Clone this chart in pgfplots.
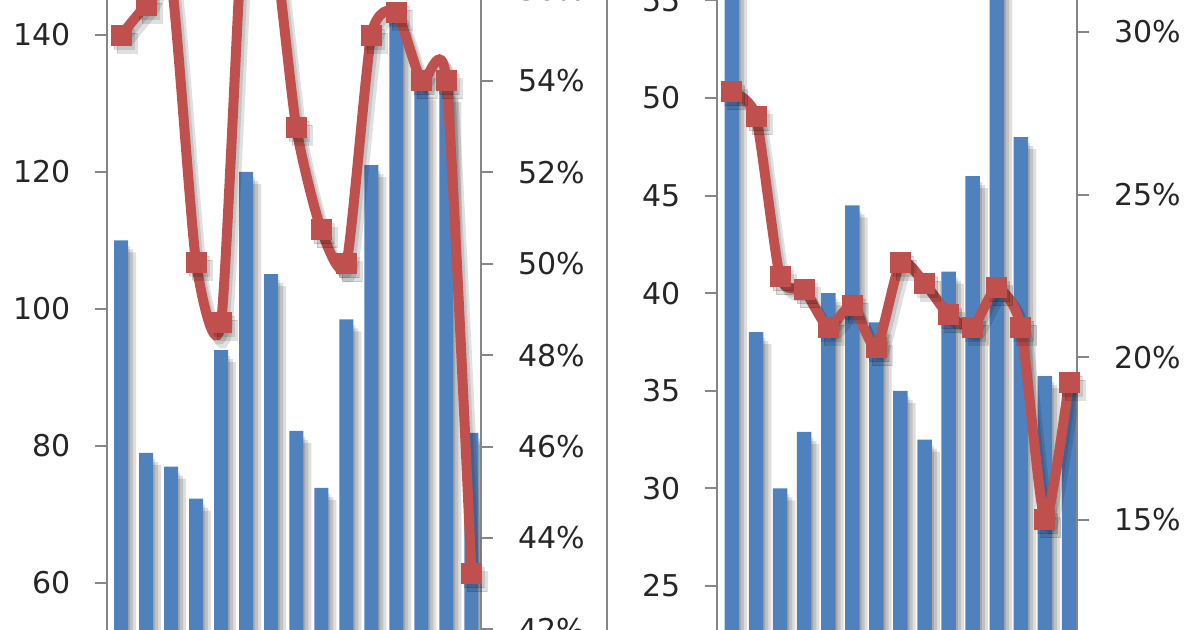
\documentclass[border=0pt]{standalone}
\usepackage{fontspec}
\setmainfont{DejaVu Sans}
\usepackage{pgfplots}
\usepackage{pgfplotstable}
\pgfplotsset{compat=1.18}
\definecolor{barblue}{HTML}{4F81BD}
\definecolor{linered}{HTML}{C0504D}
\definecolor{axgray}{HTML}{868686}

\pgfplotstableread{
x v
0 110
1 79
2 77
3 72.3
4 94
5 120
6 105.1
7 82.2
8 73.9
9 98.5
10 121
11 142.2
12 132.3
13 132
14 81.9
}\leftbars
\pgfplotstableread{
x v
0 55.0
1 55.66
2 56.2
3 50.03
4 48.72
5 58.5
6 57.5
7 52.99
8 50.74
9 50.0
10 55.0
11 55.5
12 54.0
13 54.0
14 43.22
}\leftline
\pgfplotstableread{
x v
0 57
1 38
2 30
3 32.9
4 40
5 44.5
6 38.5
7 35
8 32.5
9 41.1
10 46
11 58
12 48
13 35.75
14 35.5
}\rightbars
\pgfplotstableread{
x v
0 28.16
1 27.39
2 22.47
3 22.07
4 20.93
5 21.6
6 20.3
7 22.92
8 22.28
9 21.3
10 20.93
11 22.13
12 20.93
13 15.0
14 19.24
}\rightline

\pgfplotsset{
  base/.style={scale only axis, height=375pt, anchor=south west, clip=true,
    axis x line=none, xtick=\empty,
    tick align=outside, major tick length=6pt,
    every tick/.style={axgray, line width=1pt},
    axis line style={axgray, line width=1pt},
    ticklabel style={font=\fontsize{15}{18}\selectfont, text=black!85},
  },
  leftlab/.style={yticklabel style={xshift=-8.5pt}},
  rightlab/.style={yticklabel style={xshift=9pt}},
  shbar/.style={ybar, bar width=#1, bar shift=0pt, draw=none, fill=black, fill opacity=0.13},
  mainbar/.style={ybar, bar width=#1, bar shift=0pt, draw=none, fill=barblue},
  shline/.style={smooth, tension=0.38, black, opacity=0.12, line width=5pt,
    mark=square*, mark size=5pt, mark options={solid, line width=0.5pt}},
  mainline/.style={smooth, tension=0.38, linered, line width=5pt,
    mark=square*, mark size=5pt, mark options={solid, line width=0.5pt, fill=linered, draw=linered}},
}

\begin{document}
\begin{tikzpicture}
\path[use as bounding box] (0,0) rectangle (600pt,315pt);
\clip (0,0) rectangle (600pt,315pt);

% ---------- left panel, bars ----------
\begin{axis}[base, leftlab, at={(53.5pt,-30pt)}, width=187pt,
  xmin=-0.56, xmax=14.38, ymin=44.38, ymax=153.87,
  axis y line*=left,
  ytick={60,80,100,120,140}, yticklabels={60,80,100,120,140}]
\addplot[shbar=7pt, xshift=1pt, yshift=-3pt] table[x=x,y=v]{\leftbars};
\addplot[shbar=7pt, xshift=2.5pt, yshift=-4.5pt] table[x=x,y=v]{\leftbars};
\addplot[shbar=7pt, xshift=4pt, yshift=-6pt] table[x=x,y=v]{\leftbars};
\addplot[mainbar=7pt] table[x=x,y=v]{\leftbars};
\end{axis}
% ---------- left panel, line ----------
\begin{axis}[base, rightlab, at={(53.5pt,-30pt)}, width=187pt,
  xmin=-0.56, xmax=14.38, ymin=40.674, ymax=57.085,
  axis y line*=right,
  ytick={42,44,46,48,50,52,54,56},
  yticklabels={42\%,44\%,46\%,48\%,50\%,52\%,54\%,56\%}]
\addplot[shline, xshift=1.5pt, yshift=-2pt] table[x=x,y=v]{\leftline};
\addplot[shline, xshift=3pt, yshift=-4pt] table[x=x,y=v]{\leftline};
\addplot[mainline] table[x=x,y=v]{\leftline};
\end{axis}

% ---------- right panel, bars ----------
\begin{axis}[base, leftlab, at={(358.5pt,-30pt)}, width=180pt,
  xmin=-0.62, xmax=14.33, ymin=19.672, ymax=58.094,
  axis y line*=left,
  ytick={20,25,30,35,40,45,50,55}, yticklabels={20,25,30,35,40,45,50,55}]
\addplot[shbar=7.25pt, xshift=1pt, yshift=-3pt] table[x=x,y=v]{\rightbars};
\addplot[shbar=7.25pt, xshift=2.5pt, yshift=-4.5pt] table[x=x,y=v]{\rightbars};
\addplot[shbar=7.25pt, xshift=4pt, yshift=-6pt] table[x=x,y=v]{\rightbars};
\addplot[mainbar=7.25pt] table[x=x,y=v]{\rightbars};
\end{axis}
% ---------- right panel, line ----------
\begin{axis}[base, rightlab, at={(358.5pt,-30pt)}, width=180pt,
  xmin=-0.62, xmax=14.33, ymin=9.772, ymax=32.828,
  axis y line*=right,
  ytick={10,15,20,25,30},
  yticklabels={10\%,15\%,20\%,25\%,30\%}]
\addplot[shline, xshift=1.5pt, yshift=-2pt] table[x=x,y=v]{\rightline};
\addplot[shline, xshift=3pt, yshift=-4pt] table[x=x,y=v]{\rightline};
\addplot[mainline] table[x=x,y=v]{\rightline};
\end{axis}

\draw[axgray, line width=1pt] (303.5pt,-5pt) -- (303.5pt,320pt);
\end{tikzpicture}
\end{document}
